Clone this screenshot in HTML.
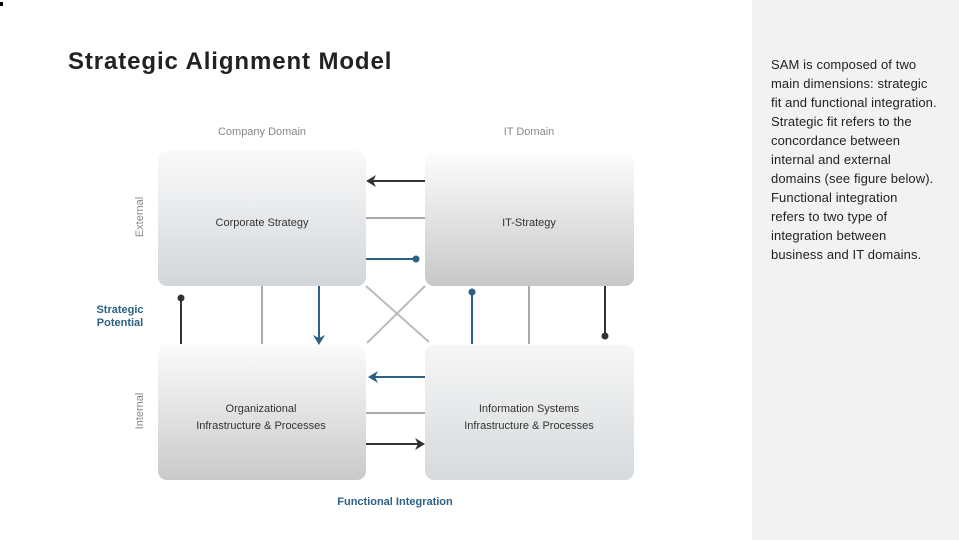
<!DOCTYPE html>
<html><head><meta charset="utf-8"><style>
body{margin:0;width:959px;height:540px;overflow:hidden;background:#fff;font-family:"Liberation Sans",sans-serif;position:relative}
.panel{position:absolute;left:752px;top:0;width:207px;height:540px;background:#f2f2f2}
.ptext{position:absolute;left:771px;top:55px;font-size:13px;line-height:19px;color:#222;letter-spacing:0.1px;white-space:nowrap}
h1{position:absolute;left:68px;top:48px;margin:0;font-size:24px;font-weight:bold;color:#222;letter-spacing:0.9px}
</style></head><body>
<div class="panel"></div>
<div class="ptext">SAM is composed of two<br>main dimensions: strategic<br>fit and functional integration.<br>Strategic fit refers to the<br>concordance between<br>internal and external<br>domains (see figure below).<br>Functional integration<br>refers to two type of<br>integration between<br>business and IT domains.</div>
<h1>Strategic Alignment Model</h1>
<svg width="959" height="540" style="position:absolute;left:0;top:0" font-family="Liberation Sans, sans-serif">
<defs>
<linearGradient id="g1" x1="0" y1="0" x2="0" y2="1"><stop offset="0" stop-color="#fafafa"/><stop offset="1" stop-color="#d2d6da"/></linearGradient>
<linearGradient id="g2" x1="0" y1="0" x2="0" y2="1"><stop offset="0" stop-color="#fdfdfd"/><stop offset="1" stop-color="#c8c8c8"/></linearGradient>
<linearGradient id="g3" x1="0" y1="0" x2="0" y2="1"><stop offset="0" stop-color="#fbfbfb"/><stop offset="1" stop-color="#cacaca"/></linearGradient>
<linearGradient id="g4" x1="0" y1="0" x2="0" y2="1"><stop offset="0" stop-color="#f6f6f6"/><stop offset="1" stop-color="#d6dadd"/></linearGradient>
</defs>
<rect x="158" y="151" width="208" height="135" rx="9" fill="url(#g1)"/>
<rect x="425" y="152" width="209" height="134" rx="9" fill="url(#g2)"/>
<rect x="158" y="345" width="208" height="135" rx="9" fill="url(#g3)"/>
<rect x="425" y="345" width="209" height="135" rx="9" fill="url(#g4)"/>
<g font-size="11" fill="#333" text-anchor="middle">
<text x="262" y="226">Corporate Strategy</text>
<text x="529" y="226">IT-Strategy</text>
<text x="261" y="412">Organizational</text>
<text x="261" y="429">Infrastructure &amp; Processes</text>
<text x="529" y="412">Information Systems</text>
<text x="529" y="429">Infrastructure &amp; Processes</text>
<text x="262" y="135" fill="#888">Company Domain</text>
<text x="529" y="135" fill="#888">IT Domain</text>
<text x="395" y="505" fill="#2d6185" font-weight="bold">Functional Integration</text>
<text x="120" y="313" fill="#2d6185" font-weight="bold">Strategic</text>
<text x="120" y="326" fill="#2d6185" font-weight="bold">Potential</text>
<text transform="translate(143,217) rotate(-90)" fill="#888">External</text>
<text transform="translate(143,411) rotate(-90)" fill="#888">Internal</text>
</g>
<g stroke-width="2" fill="none">
<line x1="425" y1="181" x2="370" y2="181" stroke="#333"/>
<line x1="366" y1="218" x2="425" y2="218" stroke="#aaa"/>
<line x1="366" y1="259" x2="416" y2="259" stroke="#2d6185"/>
<line x1="366" y1="286" x2="429" y2="342" stroke="#bbb"/>
<line x1="425" y1="286" x2="367" y2="343" stroke="#bbb"/>
<line x1="181" y1="298" x2="181" y2="344" stroke="#333"/>
<line x1="262" y1="286" x2="262" y2="344" stroke="#aaa"/>
<line x1="319" y1="286" x2="319" y2="340" stroke="#2d6185"/>
<line x1="472" y1="292" x2="472" y2="344" stroke="#2d6185"/>
<line x1="529" y1="286" x2="529" y2="344" stroke="#aaa"/>
<line x1="605" y1="286" x2="605" y2="336" stroke="#333"/>
<line x1="425" y1="377" x2="372" y2="377" stroke="#2d6185"/>
<line x1="366" y1="413" x2="425" y2="413" stroke="#aaa"/>
<line x1="366" y1="444" x2="420" y2="444" stroke="#333"/>
</g>
<polygon points="366,181 376,175 373,181 376,187" fill="#333"/>
<polygon points="319,345 313,335 319,338 325,335" fill="#2d6185"/>
<polygon points="368,377 378,371 375,377 378,383" fill="#2d6185"/>
<polygon points="425,444 415,438 418,444 415,450" fill="#333"/>
<circle cx="416" cy="259" r="3.5" fill="#2d6185"/>
<circle cx="181" cy="298" r="3.5" fill="#333"/>
<circle cx="472" cy="292" r="3.5" fill="#2d6185"/>
<circle cx="605" cy="336" r="3.5" fill="#333"/>
<rect x="0" y="2" width="3" height="4" fill="#000"/>
</svg>
</body></html>
